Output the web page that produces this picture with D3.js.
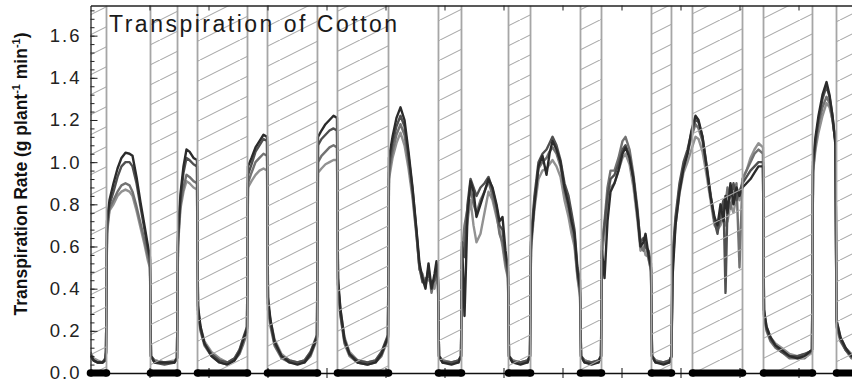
<!DOCTYPE html>
<html><head><meta charset="utf-8">
<script src="https://cdn.jsdelivr.net/npm/d3@7"></script>
<style>body{margin:0;background:#fff;} svg{display:block;font-family:Arial,"Liberation Sans",sans-serif;}</style>
</head><body><svg id="c" width="852" height="385"></svg>
<script>
// time in days
const days = [
 0.000,0.051,0.119,0.203,0.254,0.263,
 0.280,0.322,0.390,0.458,0.525,0.593,0.661,0.712,0.780,0.847,0.915,0.975,1.008,
 1.025,1.085,1.254,1.424,1.466,
 1.483,1.525,1.576,1.627,1.678,1.746,1.805,
 1.822,1.864,1.932,2.051,2.186,2.322,2.441,2.525,2.593,2.653,
 2.669,2.729,2.797,2.864,2.932,2.992,
 3.008,3.051,3.119,3.237,3.373,3.508,3.627,3.729,3.797,3.839,
 3.856,3.915,3.983,4.051,4.119,4.178,
 4.195,4.237,4.305,4.390,4.525,4.695,4.831,4.932,5.000,5.042,
 5.059,5.119,5.186,5.254,5.322,5.390,5.458,5.525,5.576,5.627,5.678,5.729,5.780,5.831,5.864,5.890,
 5.907,5.966,6.119,6.237,6.280,
 6.297,6.339,6.390,6.441,6.492,6.542,6.610,6.678,6.746,6.814,6.881,6.932,6.983,7.034,7.076,
 7.093,7.153,7.288,7.407,7.449,
 7.466,7.525,7.593,7.661,7.729,7.780,7.831,7.898,7.966,8.034,8.102,8.153,8.203,8.254,8.297,
 8.314,8.373,8.492,8.610,8.653,
 8.669,8.712,8.763,8.814,8.881,8.949,9.017,9.068,9.136,9.203,9.271,9.322,9.373,9.407,9.458,9.500,
 9.517,9.576,9.712,9.814,9.847,
 9.864,9.915,9.983,10.051,10.119,10.186,10.254,10.305,10.373,10.441,10.508,10.576,10.627,10.678,10.729,10.763,10.797,10.847,10.898,10.949,11.000,11.051,11.119,11.186,11.254,11.322,11.398,
 11.415,11.458,11.525,11.610,11.712,11.847,11.983,12.102,12.186,12.229,
 12.246,12.288,12.339,12.407,12.475,12.525,12.576,12.627,
 12.644,12.712,12.797,12.898,13.000
];
const plant1 = [
 0.09,0.06,0.05,0.05,0.06,0.10,
 0.72,0.82,0.90,0.97,1.02,1.045,1.04,1.03,0.93,0.81,0.70,0.60,0.55,
 0.08,0.05,0.05,0.05,0.07,
 0.66,0.85,0.98,1.06,1.05,1.02,1.01,
 0.32,0.22,0.14,0.08,0.05,0.04,0.06,0.10,0.16,0.21,
 0.98,1.02,1.07,1.10,1.13,1.12,
 0.36,0.25,0.15,0.08,0.05,0.04,0.05,0.09,0.14,0.17,
 1.12,1.15,1.18,1.20,1.22,1.21,
 0.45,0.30,0.16,0.09,0.05,0.04,0.05,0.09,0.14,0.17,
 1.02,1.12,1.21,1.26,1.20,1.05,0.88,0.68,0.52,0.45,0.40,0.52,0.40,0.47,0.53,0.45,
 0.08,0.05,0.04,0.05,0.08,
 0.62,0.27,0.75,0.91,0.86,0.74,0.80,0.86,0.92,0.88,0.80,0.72,0.74,0.58,0.50,
 0.08,0.05,0.04,0.05,0.08,
 0.62,0.80,0.98,1.03,0.94,1.04,1.10,1.06,1.00,0.88,0.80,0.72,0.66,0.48,0.40,
 0.08,0.05,0.04,0.05,0.08,
 0.58,0.45,0.72,0.86,0.90,0.96,1.04,1.07,1.02,0.92,0.75,0.60,0.62,0.66,0.56,0.50,
 0.08,0.05,0.04,0.05,0.08,
 0.45,0.70,0.86,0.97,1.04,1.15,1.22,1.20,1.12,0.98,0.84,0.74,0.70,0.80,0.72,0.84,0.76,0.90,0.80,0.88,0.84,0.88,0.90,0.92,0.95,0.98,0.98,
 0.30,0.22,0.17,0.13,0.11,0.08,0.07,0.08,0.10,0.11,
 1.00,1.12,1.22,1.32,1.38,1.32,1.22,1.08,
 0.25,0.17,0.12,0.08,0.07
];
const plant2 = [
 0.08,0.06,0.05,0.05,0.07,0.10,
 0.70,0.80,0.86,0.93,0.98,1.00,1.00,0.98,0.90,0.79,0.68,0.58,0.54,
 0.08,0.05,0.04,0.05,0.07,
 0.64,0.82,0.95,1.02,1.01,0.99,0.98,
 0.30,0.21,0.14,0.09,0.06,0.05,0.07,0.11,0.17,0.22,
 0.94,0.99,1.05,1.08,1.11,1.10,
 0.33,0.24,0.14,0.08,0.06,0.05,0.06,0.10,0.15,0.18,
 1.08,1.11,1.13,1.15,1.16,1.15,
 0.42,0.28,0.15,0.09,0.06,0.05,0.06,0.10,0.15,0.18,
 0.98,1.09,1.17,1.22,1.17,1.03,0.87,0.67,0.50,0.43,0.44,0.47,0.42,0.44,0.50,0.44,
 0.08,0.05,0.05,0.06,0.08,
 0.60,0.55,0.80,0.92,0.88,0.84,0.88,0.90,0.93,0.87,0.79,0.70,0.68,0.55,0.48,
 0.08,0.05,0.05,0.06,0.08,
 0.64,0.84,1.00,1.04,1.06,1.09,1.12,1.08,1.01,0.90,0.84,0.76,0.68,0.50,0.44,
 0.08,0.05,0.05,0.06,0.08,
 0.62,0.70,0.84,0.92,0.94,0.99,1.06,1.08,1.03,0.92,0.76,0.62,0.64,0.60,0.58,0.52,
 0.08,0.05,0.05,0.06,0.08,
 0.55,0.74,0.90,1.00,1.06,1.14,1.20,1.19,1.12,0.99,0.85,0.72,0.66,0.76,0.82,0.38,0.80,0.84,0.90,0.82,0.86,0.90,0.93,0.96,0.98,1.00,1.00,
 0.28,0.21,0.16,0.13,0.10,0.08,0.08,0.09,0.10,0.11,
 0.98,1.10,1.20,1.30,1.36,1.31,1.22,1.09,
 0.24,0.16,0.11,0.08,0.07
];
const plant3 = [
 0.08,0.06,0.05,0.05,0.06,0.10,
 0.68,0.78,0.82,0.86,0.89,0.90,0.89,0.86,0.79,0.71,0.63,0.55,0.52,
 0.08,0.06,0.05,0.05,0.07,
 0.62,0.80,0.88,0.94,0.93,0.91,0.90,
 0.28,0.20,0.13,0.08,0.05,0.04,0.06,0.09,0.14,0.19,
 0.90,0.95,1.00,1.02,1.04,1.03,
 0.30,0.22,0.13,0.07,0.05,0.05,0.05,0.08,0.13,0.16,
 1.00,1.03,1.05,1.07,1.08,1.07,
 0.40,0.27,0.14,0.08,0.05,0.04,0.05,0.08,0.13,0.16,
 0.95,1.05,1.13,1.18,1.13,1.00,0.85,0.66,0.49,0.47,0.41,0.50,0.38,0.45,0.48,0.43,
 0.08,0.06,0.05,0.05,0.08,
 0.58,0.70,0.78,0.88,0.80,0.76,0.82,0.86,0.91,0.84,0.76,0.66,0.62,0.52,0.46,
 0.08,0.06,0.05,0.05,0.08,
 0.60,0.82,0.97,1.00,1.02,1.05,1.07,1.04,0.98,0.86,0.78,0.70,0.62,0.46,0.38,
 0.08,0.06,0.05,0.05,0.08,
 0.60,0.72,0.88,0.96,0.96,1.02,1.10,1.12,1.06,0.94,0.78,0.60,0.58,0.62,0.54,0.49,
 0.08,0.06,0.05,0.05,0.08,
 0.52,0.72,0.88,0.98,1.04,1.12,1.18,1.16,1.10,0.97,0.84,0.72,0.68,0.72,0.76,0.80,0.88,0.78,0.84,0.90,0.50,0.92,0.96,1.00,1.04,1.06,1.04,
 0.27,0.20,0.15,0.12,0.10,0.07,0.07,0.07,0.09,0.10,
 0.96,1.08,1.18,1.26,1.31,1.28,1.20,1.10,
 0.22,0.15,0.11,0.07,0.06
];
const plant4 = [
 0.10,0.07,0.06,0.05,0.07,0.10,
 0.66,0.77,0.80,0.84,0.86,0.87,0.86,0.84,0.77,0.69,0.61,0.53,0.50,
 0.08,0.06,0.05,0.06,0.07,
 0.60,0.78,0.86,0.91,0.90,0.88,0.87,
 0.30,0.22,0.15,0.10,0.07,0.05,0.07,0.11,0.16,0.20,
 0.88,0.91,0.94,0.96,0.97,0.96,
 0.33,0.25,0.16,0.09,0.06,0.05,0.06,0.10,0.14,0.17,
 0.95,0.97,0.99,1.00,1.01,1.01,
 0.42,0.30,0.17,0.10,0.06,0.05,0.06,0.10,0.14,0.17,
 0.92,1.02,1.09,1.14,1.08,0.97,0.83,0.65,0.50,0.44,0.45,0.44,0.43,0.40,0.46,0.42,
 0.08,0.06,0.05,0.06,0.08,
 0.56,0.62,0.72,0.82,0.70,0.62,0.66,0.76,0.86,0.82,0.74,0.68,0.60,0.50,0.45,
 0.08,0.06,0.05,0.06,0.08,
 0.58,0.78,0.92,0.96,0.97,0.99,1.01,0.98,0.93,0.82,0.74,0.66,0.60,0.45,0.36,
 0.08,0.06,0.05,0.06,0.08,
 0.56,0.66,0.80,0.88,0.90,0.96,1.02,1.04,0.99,0.88,0.72,0.58,0.60,0.56,0.55,0.48,
 0.08,0.06,0.05,0.06,0.08,
 0.50,0.70,0.85,0.95,1.00,1.06,1.12,1.11,1.05,0.94,0.82,0.70,0.68,0.70,0.74,0.70,0.72,0.80,0.76,0.84,0.82,0.92,0.96,1.02,1.06,1.09,1.07,
 0.30,0.22,0.17,0.14,0.12,0.09,0.08,0.09,0.10,0.11,
 0.95,1.06,1.14,1.22,1.28,1.26,1.20,1.10,
 0.25,0.17,0.12,0.09,0.08
];
const nightStart = [0.000, 1.017, 1.814, 3.000, 4.186, 5.898, 7.085, 8.305, 9.508, 10.203, 11.407, 12.644];
const nightEnd   = [0.271, 1.475, 2.661, 3.847, 5.051, 6.288, 7.458, 8.661, 9.847, 11.051, 12.237, 13.000];
const yTickValues = [0.0, 0.2, 0.4, 0.6, 0.8, 1.0, 1.2, 1.4, 1.6];
const dayTicks = [1,2,3,4,5,6,7,8,9,10,11,12];
const titleText = "Transpiration of Cotton";
const seriesColors = ["#2b2b2b", "#505050", "#727272", "#929292"];

const svg = d3.select("#c");
const x = d3.scaleLinear().domain([0, 13]).range([90.5, 857.5]);
const y = d3.scaleLinear().domain([0, 1.743]).range([373, 5.5]);

const defs = svg.append("defs");
defs.append("clipPath").attr("id", "clip").append("rect")
  .attr("x", x(0)).attr("y", y(1.743)).attr("width", 852 - x(0)).attr("height", y(0) - y(1.743));
const pat = defs.append("pattern").attr("id", "hatch").attr("patternUnits", "userSpaceOnUse")
  .attr("width", 40).attr("height", 20);
pat.append("path").attr("d", "M-4,22 L44,-2").attr("stroke", "#aaaaaa").attr("stroke-width", 1.1).attr("fill", "none");

const plot = svg.append("g").attr("clip-path", "url(#clip)");

// curves
const series = [plant1, plant2, plant3, plant4];
const line = d3.line().x((d, i) => x(days[i])).y(d => y(d));
for (let k = series.length - 1; k >= 0; k--) {
  plot.append("path").datum(series[k]).attr("d", line)
    .attr("fill", "none").attr("stroke", seriesColors[k]).attr("stroke-width", 2.4)
    .attr("stroke-linejoin", "round");
}

// hatched periods
const nights = nightStart.map((s, i) => ({s, e: nightEnd[i]}));
plot.selectAll("rect.night").data(nights).join("rect").attr("class", "night")
  .attr("x", d => x(d.s)).attr("width", d => x(d.e) - x(d.s))
  .attr("y", y(1.743)).attr("height", y(0) - y(1.743))
  .attr("fill", "url(#hatch)");
const edges = nights.flatMap(d => [d.s, d.e]).filter(v => v > 0.01 && v < 13);
plot.selectAll("line.edge").data(edges).join("line").attr("class", "edge")
  .attr("x1", d => x(d)).attr("x2", d => x(d)).attr("y1", y(1.743)).attr("y2", y(0))
  .attr("stroke", "#a6a6a6").attr("stroke-width", 1.8);

// axes
const yAxisMinor = d3.axisLeft(y).tickValues(d3.range(0, 1.74, 0.04)).tickSize(-4).tickFormat("").tickSizeOuter(0);
svg.append("g").attr("transform", `translate(${x(0)},0)`).call(yAxisMinor)
  .call(g => g.selectAll("line").attr("stroke", "#222"))
  .call(g => g.select(".domain").attr("stroke", "#222").attr("stroke-width", 1.3));
const yAxis = d3.axisLeft(y).tickValues(yTickValues).tickSize(-7).tickPadding(11)
  .tickFormat(d3.format(".1f")).tickSizeOuter(0);
svg.append("g").attr("transform", `translate(${x(0)},0)`).call(yAxis)
  .call(g => g.select(".domain").remove())
  .call(g => g.selectAll("line").attr("stroke", "#222"))
  .call(g => g.selectAll("text").attr("font-size", 18.5).attr("fill", "#222")
    .attr("font-family", "Arial, 'Liberation Sans', sans-serif").attr("letter-spacing", "2px").attr("dx", 2));

const topAxis = d3.axisTop(x).tickValues(dayTicks).tickSize(-5).tickFormat("").tickSizeOuter(0);
svg.append("g").attr("transform", `translate(0,${y(1.743)})`).call(topAxis)
  .call(g => g.selectAll("line,path").attr("stroke", "#222"))
  .call(g => g.select(".domain").attr("stroke-width", 1.3));

const botAxis = d3.axisBottom(x).tickValues(dayTicks).tickSize(5).tickFormat("").tickSizeOuter(0);
svg.append("g").attr("transform", `translate(0,${y(0)})`).call(botAxis)
  .call(g => g.selectAll("line,path").attr("stroke", "#111"))
  .call(g => g.select(".domain").attr("stroke-width", 1.5));
const botAxis2 = d3.axisTop(x).tickValues(dayTicks).tickSize(5).tickFormat("").tickSizeOuter(0);
svg.append("g").attr("transform", `translate(0,${y(0)})`).call(botAxis2)
  .call(g => g.select(".domain").remove())
  .call(g => g.selectAll("line").attr("stroke", "#111"));

// night bars on x axis
const bars = svg.append("g");
bars.selectAll("rect").data(nights).join("rect")
  .attr("x", d => x(d.s)).attr("width", d => x(d.e) - x(d.s))
  .attr("y", y(0) - 3.5).attr("height", 7).attr("fill", "#000");
bars.selectAll("circle").data(nights.flatMap(d => [d.s, d.e])).join("circle")
  .attr("cx", d => x(d)).attr("cy", y(0)).attr("r", 3.8).attr("fill", "#000");

// title
svg.append("text").attr("x", 109).attr("y", 32).attr("font-size", 23).attr("letter-spacing", "2.5px")
  .attr("fill", "#1a1a1a").text(titleText);

// y label
const yl = svg.append("text").attr("transform", "translate(27,174) rotate(-90)")
  .attr("text-anchor", "middle").attr("font-size", 17.5).attr("font-weight", "bold").attr("fill", "#111");
yl.append("tspan").text("Transpiration Rate (g plant");
yl.append("tspan").attr("font-size", 11).attr("dy", -7).text("-1");
yl.append("tspan").attr("dy", 7).text(" min");
yl.append("tspan").attr("font-size", 11).attr("dy", -7).text("-1");
yl.append("tspan").attr("dy", 7).text(")");
</script></body></html>
